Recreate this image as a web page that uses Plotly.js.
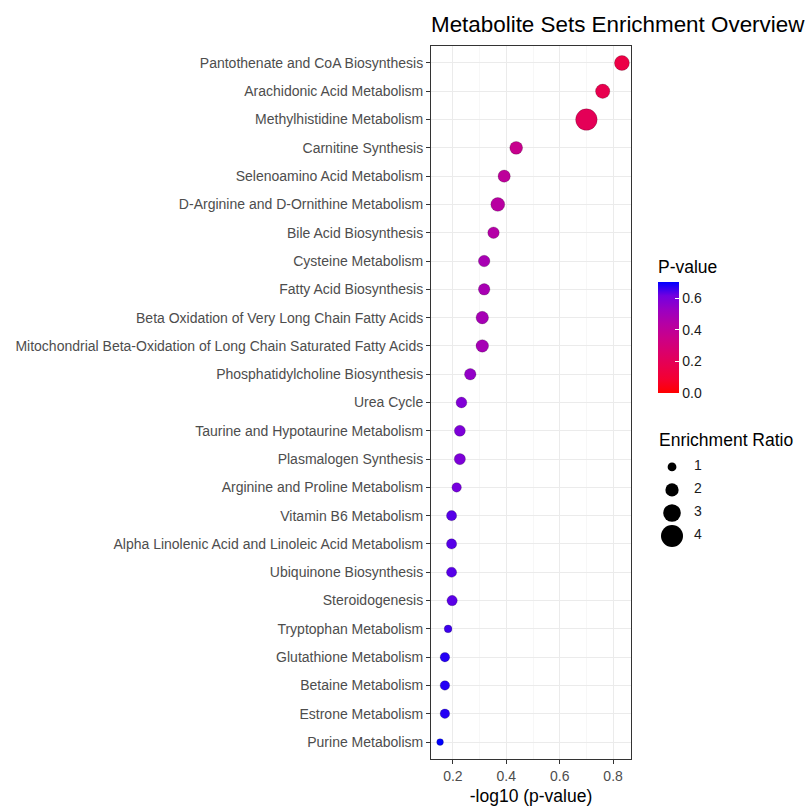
<!DOCTYPE html>
<html>
<head>
<meta charset="utf-8">
<script src="https://cdn.plot.ly/plotly-3.0.1.min.js"></script>
<style>
html,body{margin:0;padding:0;background:#fff;}
#chart{width:808px;height:808px;}
</style>
</head>
<body>
<div id="chart"></div>
<script>
// ---- data (top-to-bottom order as drawn) ----
const pathways = [
  "Pantothenate and CoA Biosynthesis",
  "Arachidonic Acid Metabolism",
  "Methylhistidine Metabolism",
  "Carnitine Synthesis",
  "Selenoamino Acid Metabolism",
  "D-Arginine and D-Ornithine Metabolism",
  "Bile Acid Biosynthesis",
  "Cysteine Metabolism",
  "Fatty Acid Biosynthesis",
  "Beta Oxidation of Very Long Chain Fatty Acids",
  "Mitochondrial Beta-Oxidation of Long Chain Saturated Fatty Acids",
  "Phosphatidylcholine Biosynthesis",
  "Urea Cycle",
  "Taurine and Hypotaurine Metabolism",
  "Plasmalogen Synthesis",
  "Arginine and Proline Metabolism",
  "Vitamin B6 Metabolism",
  "Alpha Linolenic Acid and Linoleic Acid Metabolism",
  "Ubiquinone Biosynthesis",
  "Steroidogenesis",
  "Tryptophan Metabolism",
  "Glutathione Metabolism",
  "Betaine Metabolism",
  "Estrone Metabolism",
  "Purine Metabolism"
];
const pValues = [
  0.1469, 0.1734, 0.1995, 0.3656, 0.4055, 0.4285, 0.4446, 0.4819, 0.4819,
  0.4898, 0.4898, 0.5433, 0.5861, 0.5943, 0.5943, 0.6109, 0.6383, 0.6383,
  0.6383, 0.6353, 0.6577, 0.6761, 0.6761, 0.6761, 0.7047
];
const enrichmentRatio = [
  2.4, 2.25, 3.9, 1.92, 1.78, 2.15, 1.62, 1.62, 1.62,
  1.85, 1.85, 1.62, 1.46, 1.51, 1.55, 1.16, 1.32, 1.32,
  1.32, 1.36, 0.77, 1.16, 1.16, 1.16, 0.54
];
const sizeBreaks = [1, 2, 3, 4];
const colorTicks = [0, 0.2, 0.4, 0.6];
const xTicks = [0.2, 0.4, 0.6, 0.8];

// ---- derived ----
const negLogP = pValues.map(p => -Math.log10(p));
const diam = er => 4.4 + 4.4 * er;   // point diameter (px) for an enrichment ratio
const xmin = Math.min(...negLogP), xmax = Math.max(...negLogP);
const pad = (xmax - xmin) * 0.05;
const pmax = Math.max(...pValues);

// red -> blue interpolated in Lab (ggplot scale_colour_gradient look)
const cscale = [
  [0, "rgb(255,0,0)"], [0.125, "rgb(244,0,49)"], [0.25, "rgb(232,0,79)"],
  [0.375, "rgb(218,0,108)"], [0.5, "rgb(202,0,137)"], [0.625, "rgb(181,0,165)"],
  [0.75, "rgb(154,0,194)"], [0.875, "rgb(115,0,224)"], [1, "rgb(0,0,255)"]
];

const W = 808, H = 808;
const L = 431, R = 0, T = 46, B = 49;
const plotW = W - L - R, plotH = H - T - B;
const panelW = 200;
const px2x = px => (px - L) / plotW;
const py2y = py => (H - B - py) / plotH;

const FONT = "Liberation Sans, Arial, Helvetica, sans-serif";

const main = {
  type: "scatter", mode: "markers",
  x: negLogP, y: pathways,
  xaxis: "x", yaxis: "y",
  showlegend: false, hoverinfo: "x+y",
  marker: {
    size: enrichmentRatio.map(diam), sizemode: "diameter", opacity: 1,
    color: pValues, colorscale: cscale, cmin: 0, cmax: pmax,
    line: {color: "rgba(0,0,0,0.28)", width: 0.7},
    colorbar: {
      title: {text: "P-value", side: "top", font: {family: FONT, size: 17.5, color: "#000"}},
      x: px2x(658), xanchor: "left", xref: "paper",
      y: py2y(393), yanchor: "bottom",
      thickness: 21, thicknessmode: "pixels",
      len: 136, lenmode: "pixels",
      outlinewidth: 0, xpad: 0, ypad: 0,
      tickvals: colorTicks, tickformat: ".1f",
      ticks: "inside", ticklen: 4, tickcolor: "#ffffff", tickwidth: 1,
      tickfont: {family: FONT, size: 14, color: "#1a1a1a"}
    }
  }
};

const sizeLegend = {
  type: "scatter", mode: "markers",
  x: sizeBreaks.map(() => 0), y: sizeBreaks,
  xaxis: "x2", yaxis: "y2", showlegend: false, hoverinfo: "skip",
  marker: {size: sizeBreaks.map(diam), sizemode: "diameter", opacity: 1, color: "#000", line: {width: 0}}
};
const sizeLegendText = {
  type: "scatter", mode: "text",
  x: sizeBreaks.map(() => 1), y: sizeBreaks,
  text: sizeBreaks.map(String), textposition: "middle right",
  textfont: {family: FONT, size: 14, color: "#1a1a1a"},
  xaxis: "x2", yaxis: "y2", showlegend: false, hoverinfo: "skip"
};

const layout = {
  width: W, height: H,
  margin: {l: L, r: R, t: T, b: B, pad: 0},
  paper_bgcolor: "#fff", plot_bgcolor: "#fff",
  font: {family: FONT},
  title: {
    text: "Metabolite Sets Enrichment Overview",
    font: {family: FONT, size: 22.4, color: "#000"},
    x: 0, xref: "paper", xanchor: "left",
    y: 1 - 24 / H, yref: "container", yanchor: "middle"
  },
  xaxis: {
    domain: [0, panelW / plotW],
    range: [xmin - pad, xmax + pad],
    tickvals: xTicks, ticktext: xTicks.map(v => v.toFixed(1)),
    ticks: "outside", ticklen: 4, tickwidth: 1, tickcolor: "#333",
    tickfont: {family: FONT, size: 14, color: "#4D4D4D"},
    showgrid: true, gridcolor: "#EBEBEB", gridwidth: 1,
    minor: {dtick: 0.1, tick0: 0.1, showgrid: true, gridcolor: "#F2F2F2", gridwidth: 0.6, ticks: ""},
    showline: true, linecolor: "#333", linewidth: 1, mirror: true,
    zeroline: false,
    title: {text: "-log10 (p-value)", font: {family: FONT, size: 17.5, color: "#000"}, standoff: 6}
  },
  yaxis: {
    type: "category",
    categoryorder: "array", categoryarray: pathways,
    range: [pathways.length - 0.4, -0.6],
    ticks: "outside", ticklen: 4, tickwidth: 1, tickcolor: "#333",
    tickfont: {family: FONT, size: 14, color: "#4D4D4D"},
    showgrid: true, gridcolor: "#EBEBEB", gridwidth: 1,
    showline: true, linecolor: "#333", linewidth: 1, mirror: true,
    zeroline: false
  },
  xaxis2: {
    domain: [px2x(650), px2x(720)], range: [-1, 2.18],
    visible: false, fixedrange: true, anchor: "y2"
  },
  yaxis2: {
    domain: [py2y(548.6), py2y(456.6)], range: [4.55, 0.55],
    visible: false, fixedrange: true, anchor: "x2"
  },
  annotations: [{
    text: "Enrichment Ratio", xref: "paper", yref: "paper",
    x: px2x(657), y: py2y(440), xanchor: "left", yanchor: "middle",
    showarrow: false, font: {family: FONT, size: 17.5, color: "#000"}
  }]
};

Plotly.newPlot("chart", [main, sizeLegend, sizeLegendText], layout, {staticPlot: true, displayModeBar: false});
</script>
</body>
</html>
